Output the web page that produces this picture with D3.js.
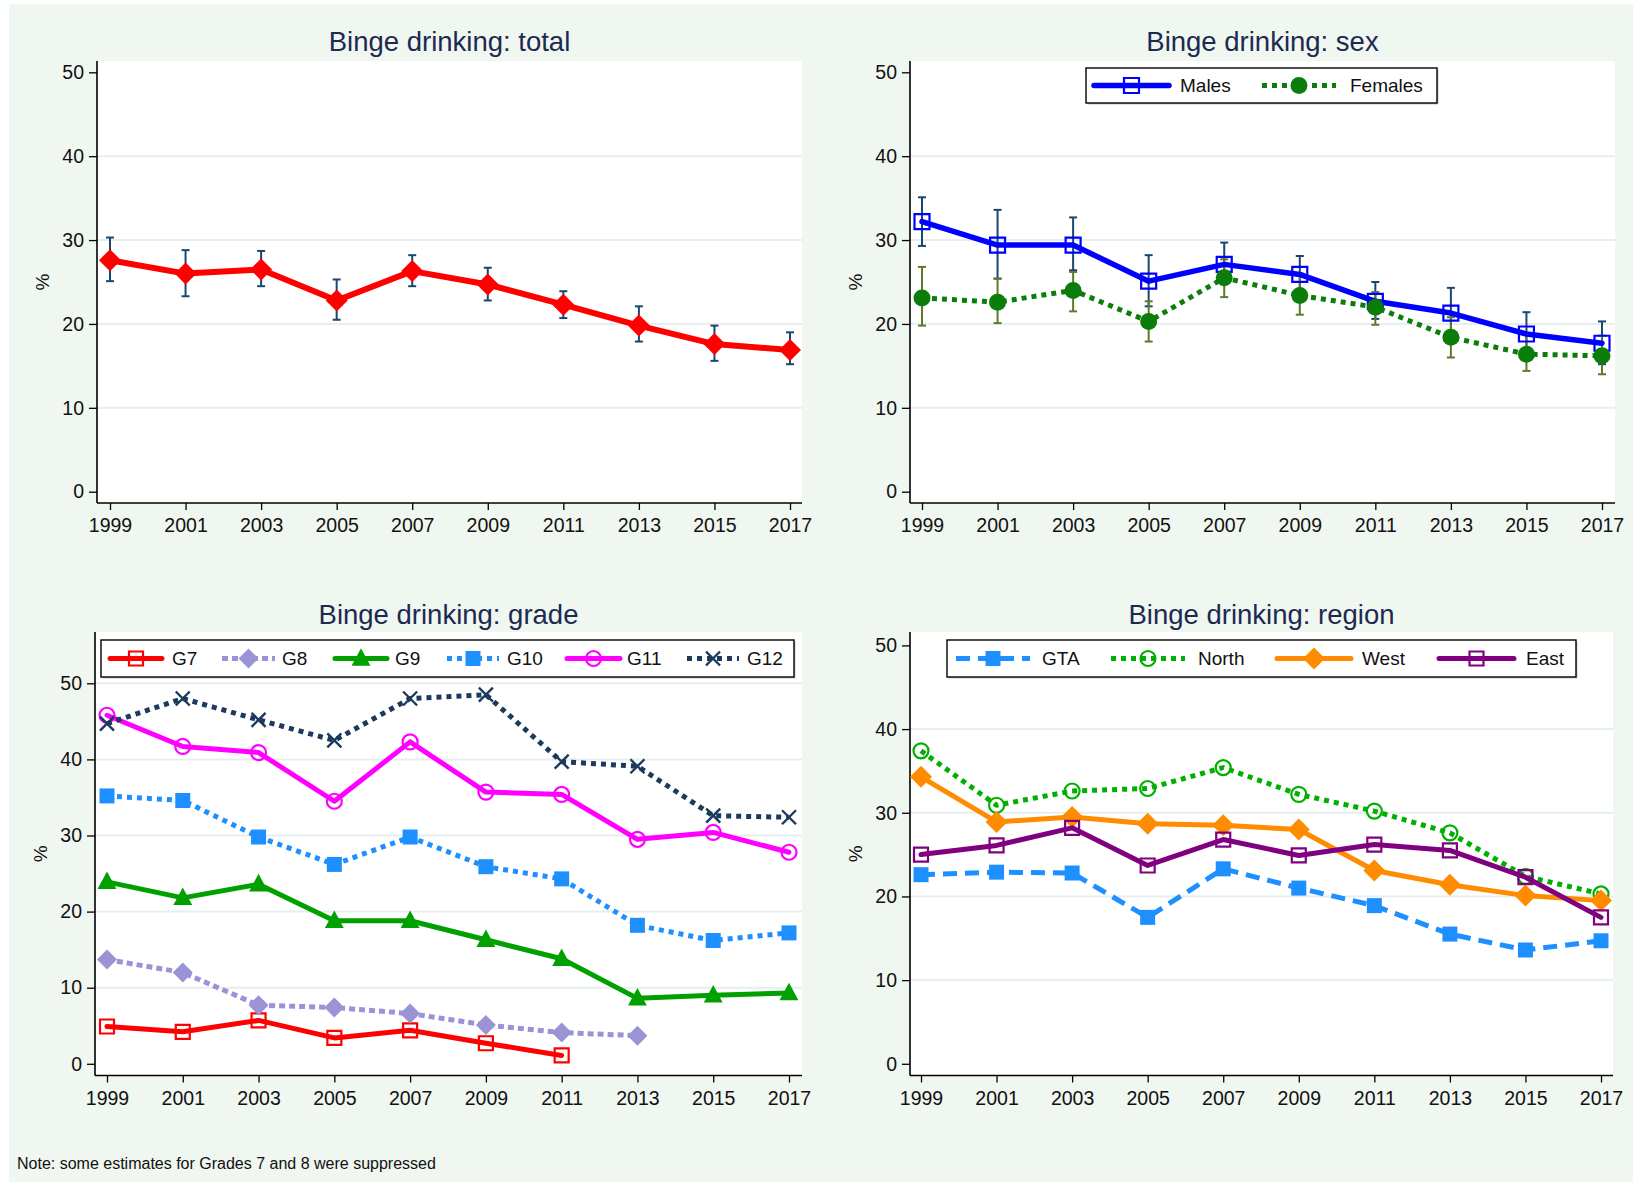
<!DOCTYPE html>
<html>
<head>
<meta charset="utf-8">
<script src="https://cdn.jsdelivr.net/npm/d3@7"></script>
<style>
  html, body { margin: 0; padding: 0; background: #ffffff; }
  svg { display: block; font-family: "Liberation Sans", Arial, Helvetica, sans-serif; }
</style>
</head>
<body>
<svg id="chart" width="1633" height="1182"></svg>
<script>
// Survey years and axis ticks
const years = [1999, 2001, 2003, 2005, 2007, 2009, 2011, 2013, 2015, 2017];
const yTicks = [0, 10, 20, 30, 40, 50];

// Binge drinking, total (estimate with 95% CI)
const totalEst = [27.6, 26.0, 26.5, 22.8, 26.3, 24.7, 22.3, 19.8, 17.6, 16.9];
const totalLo  = [25.1, 23.3, 24.5, 20.5, 24.5, 22.8, 20.7, 17.9, 15.6, 15.2];
const totalHi  = [30.3, 28.8, 28.7, 25.3, 28.2, 26.7, 23.9, 22.1, 19.8, 19.0];

// Binge drinking by sex
const malesEst   = [32.2, 29.4, 29.4, 25.1, 27.1, 25.9, 22.7, 21.3, 18.8, 17.7];
const malesLo    = [29.3, 25.4, 26.4, 22.1, 24.8, 23.7, 20.6, 18.3, 16.3, 15.2];
const malesHi    = [35.1, 33.6, 32.7, 28.2, 29.7, 28.1, 25.0, 24.3, 21.4, 20.3];
const femalesEst = [23.1, 22.6, 24.0, 20.3, 25.5, 23.4, 22.0, 18.4, 16.4, 16.2];
const femalesLo  = [19.8, 20.1, 21.5, 17.9, 23.2, 21.1, 19.9, 16.0, 14.4, 14.0];
const femalesHi  = [26.8, 25.4, 26.2, 22.7, 27.7, 26.0, 23.8, 20.8, 18.7, 18.6];

// Binge drinking by grade (null = suppressed estimate)
const g7  = [4.9, 4.2, 5.7, 3.4, 4.4, 2.7, 1.1, null, null, null];
const g8  = [13.7, 12.0, 7.7, 7.4, 6.6, 5.1, 4.1, 3.7, null, null];
const g9  = [23.9, 21.8, 23.6, 18.8, 18.8, 16.3, 13.8, 8.6, 9.0, 9.3];
const g10 = [35.2, 34.6, 29.8, 26.2, 29.8, 25.9, 24.3, 18.2, 16.2, 17.2];
const g11 = [45.8, 41.7, 40.9, 34.5, 42.3, 35.7, 35.4, 29.5, 30.4, 27.8];
const g12 = [44.7, 48.0, 45.2, 42.5, 48.0, 48.5, 39.7, 39.1, 32.6, 32.4];

// Binge drinking by region
const gta   = [22.6, 22.9, 22.8, 17.5, 23.3, 21.0, 18.9, 15.5, 13.6, 14.7];
const north = [37.4, 30.9, 32.6, 32.9, 35.4, 32.2, 30.2, 27.6, 22.4, 20.3];
const west  = [34.3, 28.9, 29.5, 28.7, 28.5, 28.0, 23.1, 21.4, 20.1, 19.5];
const east  = [25.0, 26.1, 28.2, 23.7, 26.8, 24.9, 26.2, 25.5, 22.3, 17.5];

const svg = d3.select("#chart");
const TITLE_COLOR = "#1c2a50";
const GRID_COLOR = "#e6eef1";

// Page background
svg.append("rect").attr("x", 9).attr("y", 4).attr("width", 1624).attr("height", 1178)
  .attr("fill", "#f0f6f0");

// Marker shapes centred on (0,0)
function markerPath(type, r) {
  switch (type) {
    case "diamond": return `M0,${-r}L${r},0L0,${r}L${-r},0Z`;
    case "square": return `M${-r},${-r}H${r}V${r}H${-r}Z`;
    case "triangle": return `M0,${-r * 1.15}L${r * 1.05},${r * 0.8}L${-r * 1.05},${r * 0.8}Z`;
    case "circle": return d3.arc()({innerRadius: 0, outerRadius: r, startAngle: 0, endAngle: 2 * Math.PI});
    case "x": return `M${-r},${-r}L${r},${r}M${r},${-r}L${-r},${r}`;
  }
}

function drawMarker(g, s, x, y) {
  const p = g.append("path")
    .attr("transform", `translate(${x},${y})`)
    .attr("d", markerPath(s.marker, s.mr));
  if (s.marker === "x") {
    p.attr("fill", "none").attr("stroke", s.color).attr("stroke-width", 2.4);
  } else if (s.hollow) {
    p.attr("fill", "none").attr("stroke", s.color).attr("stroke-width", 2.2);
  } else {
    p.attr("fill", s.color).attr("stroke", "none");
  }
}

function styleLine(p, s) {
  p.attr("fill", "none").attr("stroke", s.color).attr("stroke-width", s.lw)
    .attr("stroke-linejoin", "round");
  if (s.dash) p.attr("stroke-dasharray", s.dash).attr("stroke-linecap", "butt");
  else p.attr("stroke-linecap", "round");
}

function drawPanel(cfg) {
  const g = svg.append("g");
  const x = d3.scaleLinear().domain([1999, 2017]).range(cfg.xr);
  const y = d3.scaleLinear().domain([0, 50]).range(cfg.yr);

  // plot region
  g.append("rect").attr("x", cfg.x0).attr("y", cfg.yTop)
    .attr("width", cfg.x1 - cfg.x0).attr("height", cfg.yBot - cfg.yTop).attr("fill", "#ffffff");

  // grid lines
  g.append("g").selectAll("line").data(cfg.grid).join("line")
    .attr("x1", cfg.x0).attr("x2", cfg.x1)
    .attr("y1", d => y(d)).attr("y2", d => y(d))
    .attr("stroke", GRID_COLOR).attr("stroke-width", 2);

  // axes
  const ya = g.append("g").attr("transform", `translate(${cfg.x0},0)`)
    .call(d3.axisLeft(y).tickValues(yTicks).tickSize(8).tickPadding(5).tickSizeOuter(0));
  const xa = g.append("g").attr("transform", `translate(0,${cfg.yBot})`)
    .call(d3.axisBottom(x).tickValues(years).tickFormat(d3.format("d")).tickSize(7).tickPadding(8.5).tickSizeOuter(0));
  [ya, xa].forEach(a => {
    a.select(".domain").remove();
    a.selectAll(".tick line").attr("stroke", "#000").attr("stroke-width", 1.3);
    a.selectAll(".tick text").attr("font-size", 19.5).attr("fill", "#111")
      .attr("font-family", "'Liberation Sans', Arial, sans-serif");
  });
  g.append("line").attr("x1", cfg.x0).attr("x2", cfg.x0).attr("y1", cfg.yTop).attr("y2", cfg.yBot)
    .attr("stroke", "#000").attr("stroke-width", 1.6);
  g.append("line").attr("x1", cfg.x0).attr("x2", cfg.x1).attr("y1", cfg.yBot).attr("y2", cfg.yBot)
    .attr("stroke", "#000").attr("stroke-width", 1.6);

  // axis title
  const yMid = (cfg.yTop + cfg.yBot) / 2;
  g.append("text").attr("transform", `translate(${cfg.x0 - 48},${yMid}) rotate(-90)`)
    .attr("text-anchor", "middle").attr("font-size", 19).attr("fill", "#111").text("%");

  // panel title
  g.append("text").attr("x", (cfg.x0 + cfg.x1) / 2).attr("y", cfg.titleY)
    .attr("text-anchor", "middle").attr("font-size", 27.5).attr("fill", TITLE_COLOR).text(cfg.title);

  // confidence intervals
  (cfg.ci || []).forEach(c => {
    const cg = g.append("g").attr("stroke", c.color).attr("stroke-width", 2);
    years.forEach((yr, i) => {
      const cx = x(yr);
      cg.append("line").attr("x1", cx).attr("x2", cx).attr("y1", y(c.lo[i])).attr("y2", y(c.hi[i]));
      cg.append("line").attr("x1", cx - 4).attr("x2", cx + 4).attr("y1", y(c.lo[i])).attr("y2", y(c.lo[i]));
      cg.append("line").attr("x1", cx - 4).attr("x2", cx + 4).attr("y1", y(c.hi[i])).attr("y2", y(c.hi[i]));
    });
  });

  // series lines and markers
  cfg.series.forEach(s => {
    const pts = years.map((yr, i) => [yr, s.values[i]]).filter(d => d[1] != null);
    const line = d3.line().x(d => x(d[0])).y(d => y(d[1]));
    styleLine(g.append("path").attr("d", line(pts)), s);
    pts.forEach(d => drawMarker(g, s, x(d[0]), y(d[1])));
  });

  // legend
  if (cfg.legend) {
    const L = cfg.legend;
    g.append("rect").attr("x", L.x0 + 1.5).attr("y", L.y0 + 1.5).attr("width", L.x1 - L.x0).attr("height", L.y1 - L.y0)
      .attr("fill", "#c8c8c8");
    g.append("rect").attr("x", L.x0).attr("y", L.y0).attr("width", L.x1 - L.x0).attr("height", L.y1 - L.y0)
      .attr("fill", "#ffffff").attr("stroke", "#000").attr("stroke-width", 1.4);
    const cy = (L.y0 + L.y1) / 2;
    cfg.series.forEach((s, i) => {
      const it = L.items[i];
      styleLine(g.append("path").attr("d", `M${it[0]},${cy}H${it[1]}`), s);
      drawMarker(g, s, (it[0] + it[1]) / 2, cy);
      g.append("text").attr("x", it[2]).attr("y", cy).attr("dy", "0.35em")
        .attr("font-size", 19).attr("fill", "#111").text(s.name);
    });
  }
}

// Top left: total
drawPanel({
  title: "Binge drinking: total", titleY: 51,
  x0: 97, x1: 802, yTop: 61, yBot: 503, xr: [110, 790], yr: [491.7, 72.3],
  grid: [10, 20, 30, 40],
  ci: [{lo: totalLo, hi: totalHi, color: "#1a476f"}],
  series: [{name: "Total", values: totalEst, color: "#ff0000", lw: 6, marker: "diamond", mr: 11}]
});

// Top right: sex
drawPanel({
  title: "Binge drinking: sex", titleY: 51,
  x0: 910, x1: 1615, yTop: 61, yBot: 503, xr: [922, 1602], yr: [491.7, 72.3],
  grid: [10, 20, 30, 40],
  ci: [{lo: malesLo, hi: malesHi, color: "#1a476f"}, {lo: femalesLo, hi: femalesHi, color: "#5e7b2c"}],
  series: [
    {name: "Males", values: malesEst, color: "#0000ff", lw: 5.5, marker: "square", mr: 7.5, hollow: true},
    {name: "Females", values: femalesEst, color: "#0a7d0a", lw: 5, dash: "5,5", marker: "circle", mr: 8.5}
  ],
  legend: {x0: 1086, x1: 1437, y0: 68, y1: 103,
    items: [[1094, 1169, 1180], [1262, 1336, 1350]]}
});

// Bottom left: grade
drawPanel({
  title: "Binge drinking: grade", titleY: 624,
  x0: 95, x1: 802, yTop: 632, yBot: 1075.5, xr: [107, 789], yr: [1063.8, 683.3],
  grid: [10, 20, 30, 40, 50],
  series: [
    {name: "G7", values: g7, color: "#ff0000", lw: 5, marker: "square", mr: 7, hollow: true},
    {name: "G8", values: g8, color: "#9a93d6", lw: 5, dash: "6,4", marker: "diamond", mr: 10},
    {name: "G9", values: g9, color: "#00a000", lw: 5, marker: "triangle", mr: 9},
    {name: "G10", values: g10, color: "#1e8fff", lw: 5, dash: "5,5", marker: "square", mr: 7.5},
    {name: "G11", values: g11, color: "#ff00ff", lw: 5, marker: "circle", mr: 7.5, hollow: true},
    {name: "G12", values: g12, color: "#1c3a5e", lw: 5, dash: "5,5", marker: "x", mr: 7}
  ],
  legend: {x0: 101, x1: 794, y0: 640, y1: 677,
    items: [[110, 162, 172], [222, 275, 282], [335, 387, 395], [447, 499, 507], [567, 620, 627], [687, 739, 747]]}
});

// Bottom right: region
drawPanel({
  title: "Binge drinking: region", titleY: 624,
  x0: 910, x1: 1613, yTop: 632, yBot: 1075.5, xr: [921, 1601], yr: [1063.8, 645.4],
  grid: [10, 20, 30, 40],
  series: [
    {name: "GTA", values: gta, color: "#1e8fff", lw: 5, dash: "14,8", marker: "square", mr: 7.5},
    {name: "North", values: north, color: "#00b000", lw: 5, dash: "5,5", marker: "circle", mr: 7.5, hollow: true},
    {name: "West", values: west, color: "#ff8c00", lw: 5, marker: "diamond", mr: 11},
    {name: "East", values: east, color: "#800080", lw: 5, marker: "square", mr: 7, hollow: true}
  ],
  legend: {x0: 947, x1: 1576, y0: 640, y1: 677,
    items: [[956, 1030, 1042], [1111, 1185, 1198], [1277, 1351, 1362], [1439, 1514, 1526]]}
});

// Footnote
svg.append("text").attr("x", 17).attr("y", 1169).attr("font-size", 16).attr("fill", "#111")
  .text("Note: some estimates for Grades 7 and 8 were suppressed");
</script>
</body>
</html>
